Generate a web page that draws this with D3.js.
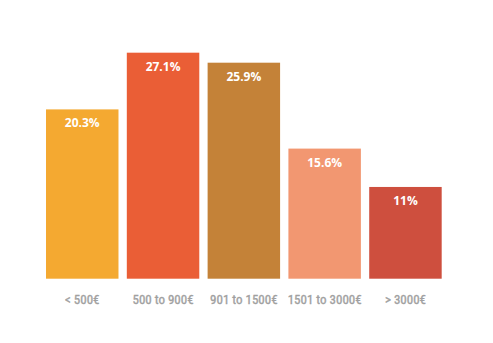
<!DOCTYPE html>
<html><head><meta charset="utf-8">
<script src="https://cdn.jsdelivr.net/npm/d3@7"></script>
<style>html,body{margin:0;padding:0;background:#fff;}</style>
</head><body>
<script>
const categories = ["< 500€", "500 to 900€", "901 to 1500€", "1501 to 3000€", "> 3000€"];
const values = [20.3, 27.1, 25.9, 15.6, 11];
const valueLabels = ["20.3%", "27.1%", "25.9%", "15.6%", "11%"];
const colors = ["#F4A931", "#EA5E36", "#C48238", "#F29771", "#CE4F3E"];

const W = 493, H = 343;
const svg = d3.select("body").append("svg").attr("width", W).attr("height", H);

const x = d3.scaleBand().domain(categories).range([41.85, 445.85])
  .paddingInner(0.103).paddingOuter(0.0515);
const y = d3.scaleLinear().domain([0, 30]).range([278.7, 28.5]);

const data = categories.map((c, i) => ({c, v: values[i], l: valueLabels[i], col: colors[i]}));

svg.selectAll("rect.bar").data(data).join("rect").attr("class", "bar")
  .attr("x", d => x(d.c)).attr("width", x.bandwidth())
  .attr("y", d => y(d.v)).attr("height", d => y(0) - y(d.v))
  .attr("fill", d => d.col);

svg.selectAll("text.val").data(data).join("text").attr("class", "val")
  .attr("x", d => x(d.c) + x.bandwidth() / 2)
  .attr("y", d => y(d.v) + 18)
  .attr("text-anchor", "middle")
  .attr("font-family", "'Open Sans', sans-serif")
  .attr("font-weight", "bold")
  .attr("font-size", "12px")
  .attr("fill", "#fff")
  .text(d => d.l);

const axis = d3.axisBottom(x).tickSize(0).tickPadding(0);
const g = svg.append("g").attr("transform", `translate(0,${y(0)})`).call(axis);
g.select(".domain").remove();
g.selectAll("text")
  .attr("y", 25).attr("dy", null)
  .attr("font-family", "'Liberation Sans Narrow', 'Roboto Condensed', Roboto, sans-serif")
  .attr("font-size", "13px")
  .attr("font-weight", "normal")
  .attr("fill", "#a0a0a0")
  .attr("stroke", "#a0a0a0")
  .attr("stroke-width", 0.35);
</script>
</body></html>
